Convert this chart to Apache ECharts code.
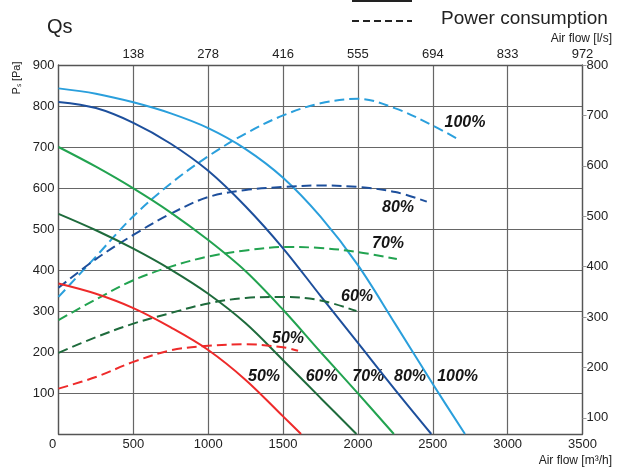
<!DOCTYPE html>
<html><head><meta charset="utf-8">
<script src="https://cdn.jsdelivr.net/npm/echarts@6/dist/echarts.min.js"></script>
<style>html,body{margin:0;padding:0;background:#fff}#c{width:617px;height:470px}</style>
</head><body><div id="c"></div>
<script>
// ---- data ----
const flowTicks = [0, 500, 1000, 1500, 2000, 2500, 3000, 3500];
const topTickLabels = ['', '138', '278', '416', '555', '694', '833', '972'];
const rightTickValues = [100, 200, 300, 400, 500, 600, 700, 800];
const speeds = ['100%', '80%', '70%', '60%', '50%'];

// static pressure Ps [Pa] vs air flow [m3/h]
const ps100 = [[0,843],[250,830],[500,809],[750,782],[1000,746],[1250,695],[1500,625],[1750,530],[2000,412],[2250,268],[2500,122],[2715,0]];
const ps80  = [[0,810],[250,795],[500,759],[750,708],[1000,642],[1250,555],[1500,453],[1750,337],[2000,222],[2250,107],[2490,0]];
const ps70  = [[0,700],[250,652],[500,599],[750,540],[1000,473],[1250,397],[1500,303],[1750,200],[2000,99],[2240,0]];
const ps60  = [[0,537],[250,497],[500,452],[750,401],[1000,342],[1250,270],[1500,180],[1750,88],[1990,0]];
const ps50  = [[0,367],[250,342],[500,307],[750,260],[1000,205],[1250,132],[1500,43],[1620,0]];

// power consumption [W] vs air flow [m3/h]
const pw100 = [[0,340],[250,420],[500,500],[750,565],[1000,619],[1250,664],[1500,700],[1750,724],[2000,733],[2250,714],[2500,680],[2680,651]];
const pw80  = [[0,358],[250,415],[500,463],[750,505],[1000,538],[1250,552],[1500,558],[1750,561],[2000,558],[2250,548],[2460,529]];
const pw70  = [[0,294],[250,335],[500,373],[750,400],[1000,420],[1250,432],[1500,439],[1750,437],[2000,429],[2260,415]];
const pw60  = [[0,229],[250,260],[500,287],[750,308],[1000,327],[1250,338],[1500,340],[1750,333],[1990,312]];
const pw50  = [[0,158],[250,181],[500,211],[750,234],[1000,243],[1250,246],[1500,240],[1600,233]];

// label anchors (data coordinates) for the speed labels
const psLabelAnchors = [[2666,140],[2348,140],[2069,140],[1758,140],[1373,140]];
const pwLabelAnchors = [[2715,685],[2268,518],[2201,445],[1994,340],[1533,258]];

// ---- styling ----
const colors = ['#2a9fdc', '#1d4f9c', '#22a350', '#1e6b3c', '#ee2a2a'];
const FONT = 'Liberation Sans, Arial, sans-serif';
const psData = [ps100, ps80, ps70, ps60, ps50];
const pwData = [pw100, pw80, pw70, pw60, pw50];

const series = [];
speeds.forEach((s, i) => {
  series.push({
    type: 'line', name: 'Ps ' + s, xAxisIndex: 0, yAxisIndex: 0,
    data: psData[i], smooth: 0.35, showSymbol: false, silent: true,
    lineStyle: { color: colors[i], width: 2 }
  });
  series.push({
    type: 'line', name: 'P ' + s, xAxisIndex: 0, yAxisIndex: 1,
    data: pwData[i], smooth: 0.35, showSymbol: false, silent: true,
    lineStyle: { color: colors[i], width: 2, type: [10, 5] }
  });
});
const labelStyle = { show: true, formatter: p => p.name, fontFamily: FONT, fontSize: 16,
  fontWeight: 'bold', fontStyle: 'italic', color: '#161616', opacity: 1, position: 'inside' };
series.push({
  type: 'scatter', xAxisIndex: 0, yAxisIndex: 0, symbolSize: 0, silent: true,
  itemStyle: { opacity: 1 }, emphasis: { disabled: true },
  data: speeds.map((s, i) => ({ name: s, value: psLabelAnchors[i] })), label: labelStyle
});
series.push({
  type: 'scatter', xAxisIndex: 0, yAxisIndex: 1, symbolSize: 0, silent: true,
  itemStyle: { opacity: 1 }, emphasis: { disabled: true },
  data: speeds.map((s, i) => ({ name: s, value: pwLabelAnchors[i] })), label: labelStyle
});

const axisLineStyle = { color: '#555', width: 1.3 };
const option = {
  animation: false,
  backgroundColor: '#fff',
  grid: { left: 58.5, right: 34.5, top: 65, bottom: 36, containLabel: false },
  xAxis: [
    { type: 'value', position: 'bottom', min: 0, max: 3500, interval: 500,
      axisLine: { show: true, onZero: false, lineStyle: axisLineStyle },
      axisTick: { show: false },
      splitLine: { show: true, lineStyle: { color: '#666', width: 1.2 } },
      axisLabel: { fontFamily: FONT, fontSize: 13, color: '#222', margin: 4, showMaxLabel: true, showMinLabel: true,
        formatter: v => v === 0 ? '{z|0}' : String(v),
        rich: { z: { fontFamily: FONT, fontSize: 13, color: '#222', padding: [0, 12, 0, 0] } } } },
    { type: 'value', position: 'top', min: 0, max: 3500, interval: 500,
      axisLine: { show: true, onZero: false, lineStyle: axisLineStyle },
      axisTick: { show: false }, splitLine: { show: false },
      axisLabel: { fontFamily: FONT, fontSize: 13, color: '#222', margin: 4, showMaxLabel: true,
        formatter: v => topTickLabels[flowTicks.indexOf(v)] || '' } }
  ],
  yAxis: [
    { type: 'value', position: 'left', min: 0, max: 900, interval: 100,
      axisLine: { show: true, onZero: false, lineStyle: axisLineStyle },
      axisTick: { show: false },
      splitLine: { show: true, lineStyle: { color: '#666', width: 1.2 } },
      axisLabel: { fontFamily: FONT, fontSize: 13, color: '#222', margin: 4,
        formatter: v => v === 0 ? '' : String(v) } },
    { type: 'value', position: 'right', min: 68, max: 800,
      axisLine: { show: true, onZero: false, lineStyle: axisLineStyle },
      axisTick: { show: true, length: 4, customValues: rightTickValues, lineStyle: { color: '#999' } },
      splitLine: { show: false },
      axisLabel: { fontFamily: FONT, fontSize: 13, color: '#222', margin: 4, customValues: rightTickValues } }
  ],
  graphic: [
    { type: 'text', left: 47, top: 17, style: { text: 'Qs', fontFamily: FONT, fontSize: 20, fill: '#222' } },
    { type: 'line', shape: { x1: 352, y1: 1, x2: 412, y2: 1 }, style: { stroke: '#222', lineWidth: 2 } },
    { type: 'line', shape: { x1: 352, y1: 21, x2: 412, y2: 21 }, style: { stroke: '#222', lineWidth: 2, lineDash: [7, 4] } },
    { type: 'text', x: 441, y: 19, style: { text: 'Power consumption', fontFamily: FONT, fontSize: 19, fill: '#222', verticalAlign: 'middle' } },
    { type: 'text', x: 612, y: 39, style: { text: 'Air flow [l/s]', fontFamily: FONT, fontSize: 12, fill: '#222', align: 'right', verticalAlign: 'middle' } },
    { type: 'text', x: 612, y: 461, style: { text: 'Air flow [m³/h]', fontFamily: FONT, fontSize: 12, fill: '#222', align: 'right', verticalAlign: 'middle' } },
    { type: 'text', x: 17, y: 78, rotation: Math.PI / 2,
      style: { text: 'Pₛ [Pa]', fontFamily: FONT, fontSize: 11, fill: '#222', align: 'center', verticalAlign: 'middle' } }
  ],
  series: series
};
const chart = echarts.init(document.getElementById('c'), null, { renderer: 'canvas' });
chart.setOption(option);
</script></body></html>
